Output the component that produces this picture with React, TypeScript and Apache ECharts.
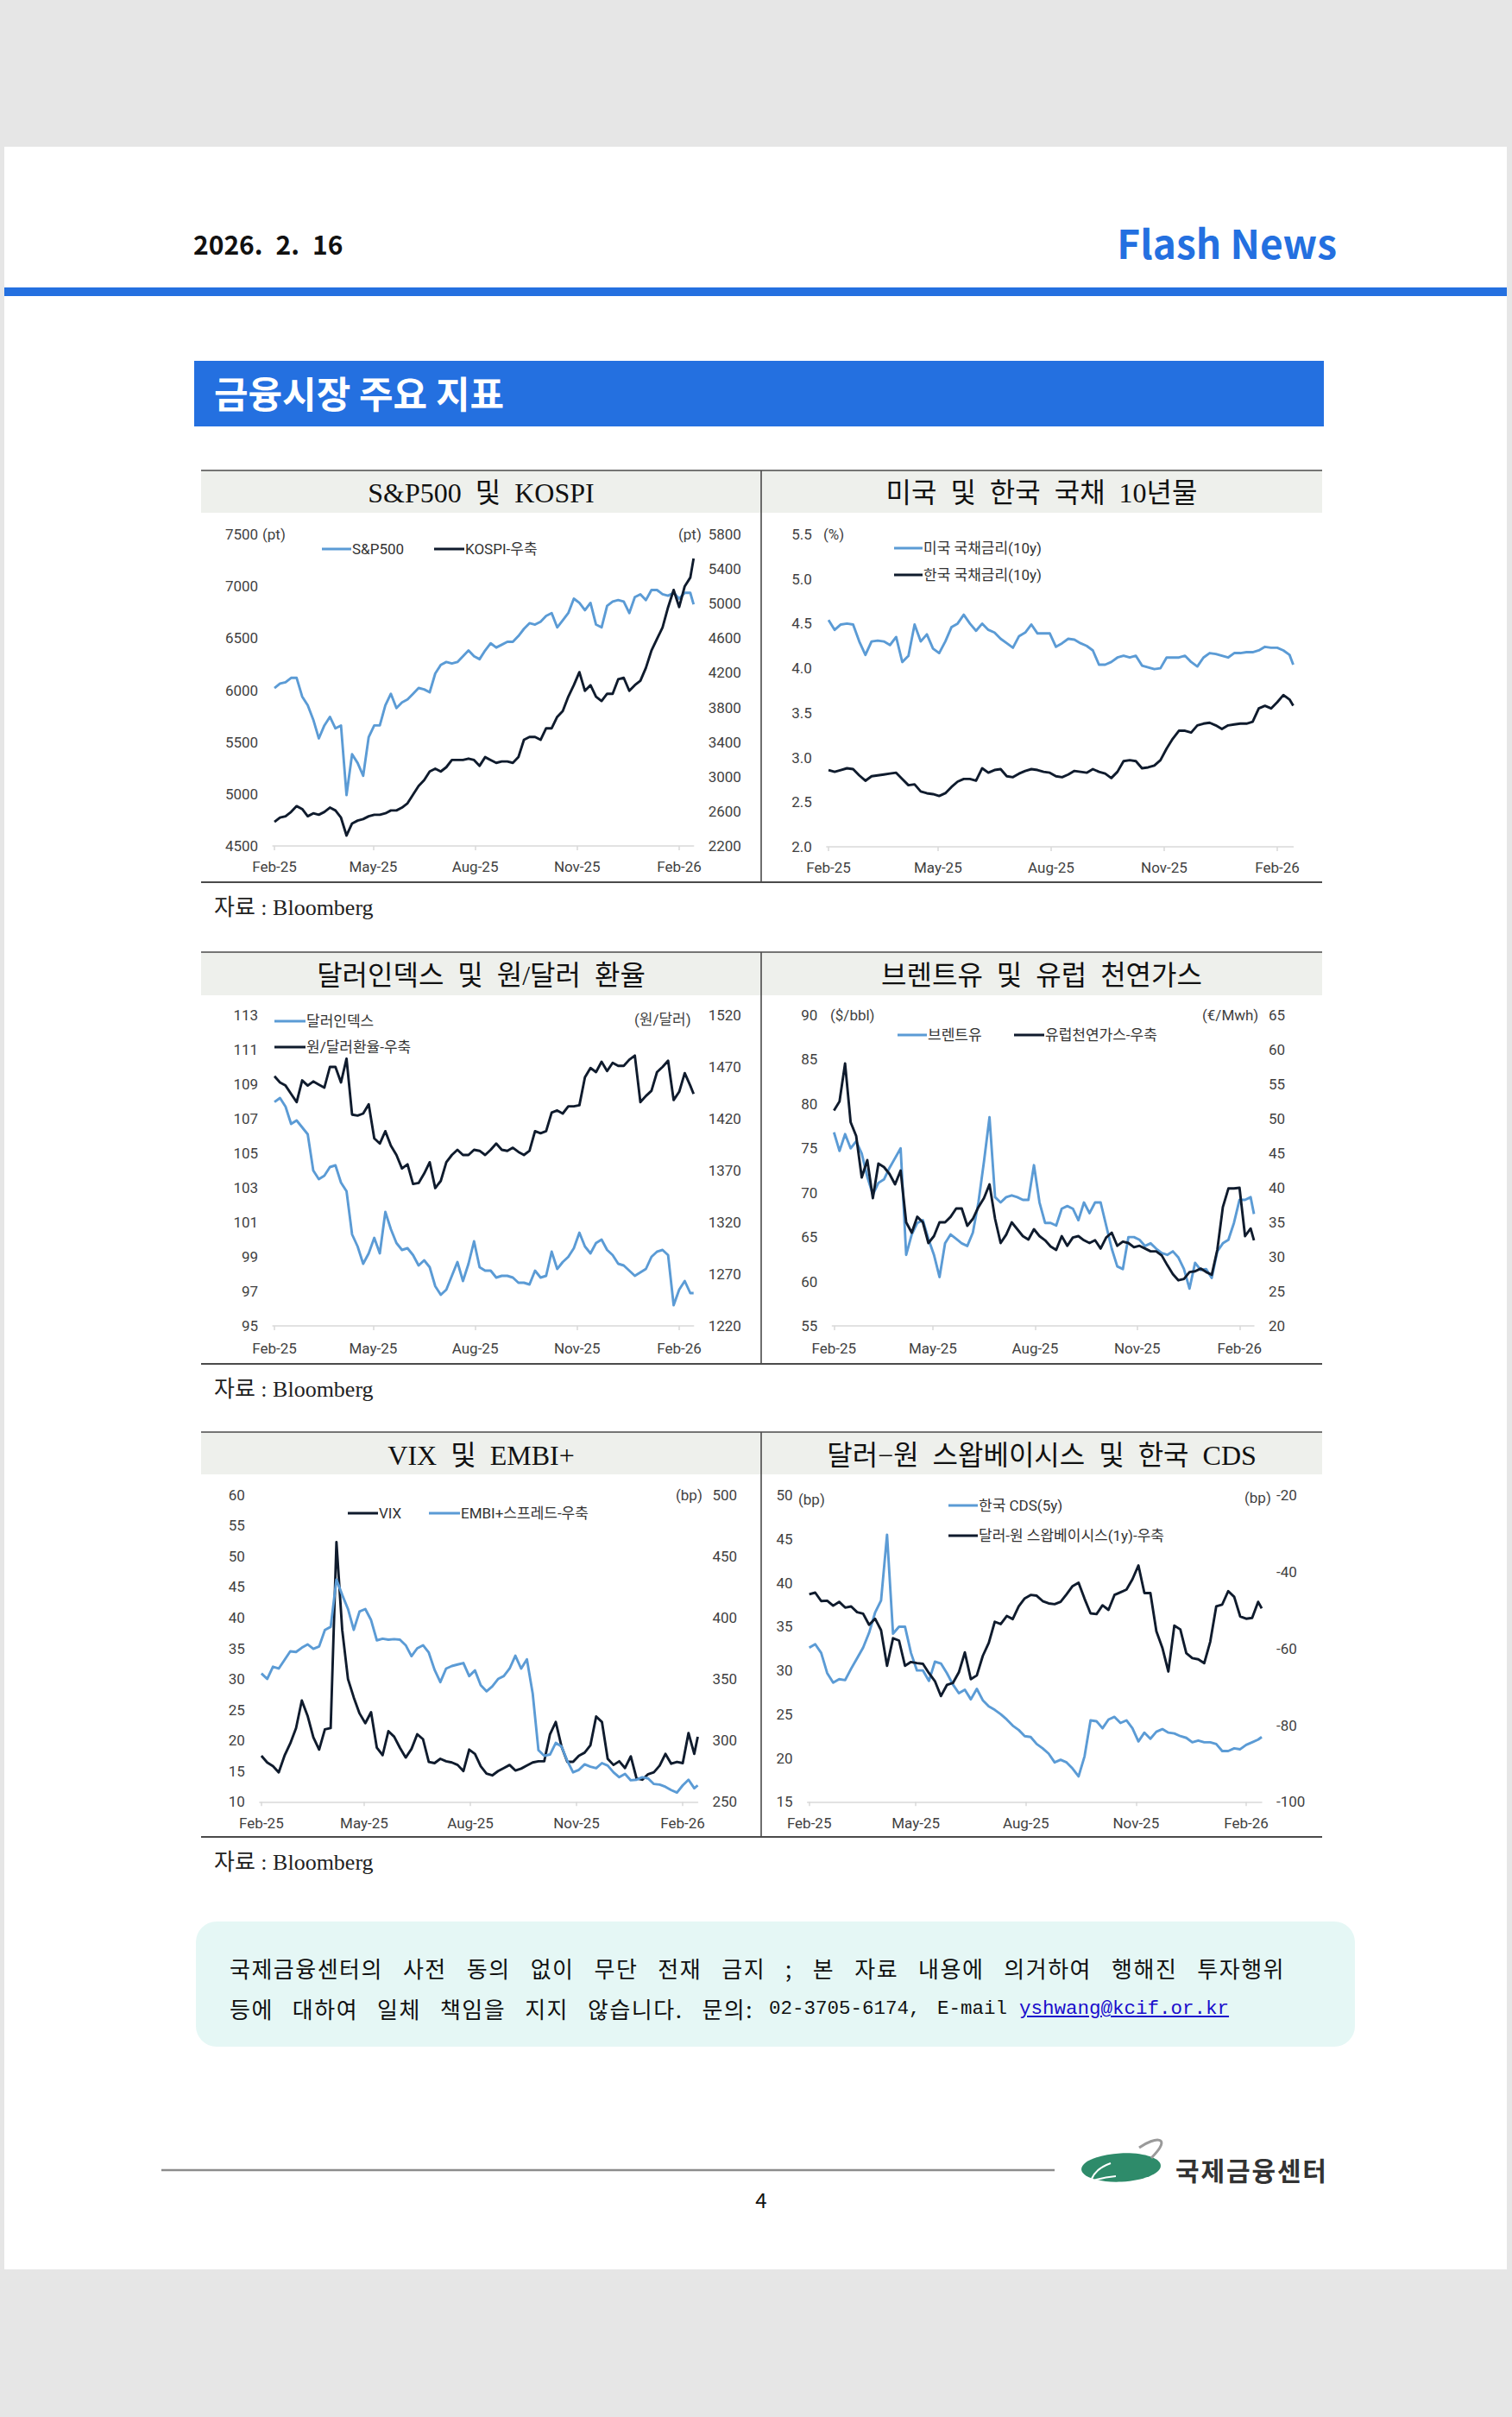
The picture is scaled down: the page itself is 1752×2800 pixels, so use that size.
import React, { useEffect, useRef } from "react";
import * as echarts from "echarts";

// ---------- DATA (day offsets from 2025-02-01) ----------
const DAYS = [0, 5, 10, 15, 20, 25, 30, 35, 40, 45, 50, 55, 60, 65, 70, 75, 80, 85, 90, 95, 100, 105, 110, 115, 120, 125, 130, 135, 140, 145, 150, 155, 160, 165, 170, 175, 180, 185, 190, 195, 200, 205, 210, 215, 220, 225, 230, 235, 240, 245, 250, 255, 260, 265, 270, 275, 280, 285, 290, 295, 300, 305, 310, 315, 320, 325, 330, 335, 340, 345, 350, 355, 360, 365, 370, 375, 378];
const TICK_DAYS = [0, 89, 181, 273, 365];
const TICK_LABELS = ["Feb-25", "May-25", "Aug-25", "Nov-25", "Feb-26"];

const SP500 = [6020, 6063, 6076, 6118, 6118, 5938, 5854, 5716, 5535, 5660, 5743, 5632, 5660, 4990, 5383, 5299, 5175, 5549, 5660, 5660, 5854, 5965, 5827, 5882, 5910, 5965, 6021, 6007, 5979, 6160, 6243, 6271, 6257, 6271, 6326, 6382, 6326, 6298, 6382, 6451, 6410, 6437, 6465, 6465, 6521, 6590, 6645, 6631, 6659, 6715, 6742, 6604, 6673, 6742, 6881, 6840, 6770, 6840, 6631, 6604, 6812, 6853, 6867, 6853, 6742, 6895, 6923, 6867, 6964, 6964, 6923, 6909, 6937, 6881, 6937, 6937, 6826];
const KOSPI = [2477, 2527, 2543, 2593, 2660, 2627, 2543, 2577, 2560, 2593, 2643, 2610, 2527, 2320, 2460, 2493, 2510, 2543, 2560, 2560, 2577, 2610, 2610, 2643, 2693, 2793, 2893, 2960, 3060, 3093, 3060, 3110, 3193, 3193, 3193, 3209, 3193, 3126, 3226, 3193, 3160, 3176, 3176, 3160, 3226, 3426, 3459, 3459, 3426, 3559, 3559, 3692, 3759, 3925, 4058, 4208, 3992, 4058, 3925, 3875, 3958, 3958, 4125, 4142, 3992, 4058, 4108, 4258, 4458, 4591, 4724, 4958, 5157, 4960, 5200, 5300, 5520];

const US10Y = [4.54, 4.43, 4.49, 4.50, 4.49, 4.30, 4.15, 4.30, 4.31, 4.30, 4.26, 4.35, 4.07, 4.14, 4.49, 4.30, 4.38, 4.22, 4.17, 4.30, 4.46, 4.50, 4.60, 4.50, 4.42, 4.50, 4.43, 4.40, 4.33, 4.28, 4.23, 4.36, 4.40, 4.49, 4.39, 4.39, 4.39, 4.24, 4.28, 4.33, 4.32, 4.28, 4.25, 4.20, 4.04, 4.04, 4.07, 4.12, 4.14, 4.12, 4.14, 4.03, 4.01, 3.99, 4.00, 4.12, 4.12, 4.12, 4.14, 4.07, 4.02, 4.12, 4.17, 4.16, 4.14, 4.12, 4.17, 4.17, 4.18, 4.18, 4.20, 4.24, 4.23, 4.23, 4.20, 4.15, 4.04];
const KR10Y = [2.86, 2.84, 2.86, 2.88, 2.87, 2.80, 2.74, 2.79, 2.80, 2.81, 2.82, 2.83, 2.76, 2.69, 2.70, 2.62, 2.60, 2.59, 2.57, 2.60, 2.67, 2.73, 2.76, 2.76, 2.74, 2.88, 2.83, 2.86, 2.87, 2.79, 2.78, 2.82, 2.85, 2.87, 2.86, 2.84, 2.83, 2.79, 2.78, 2.81, 2.85, 2.84, 2.83, 2.87, 2.84, 2.82, 2.77, 2.84, 2.96, 2.97, 2.96, 2.88, 2.89, 2.91, 2.97, 3.10, 3.21, 3.30, 3.30, 3.28, 3.36, 3.38, 3.39, 3.36, 3.32, 3.36, 3.37, 3.38, 3.38, 3.40, 3.55, 3.58, 3.55, 3.62, 3.70, 3.65, 3.58];

const DXY = [107.97, 108.2, 107.7, 106.7, 106.9, 106.5, 106.1, 104.0, 103.5, 103.7, 104.2, 104.3, 103.3, 102.8, 100.3, 99.6, 98.6, 99.2, 100.1, 99.2, 101.6, 100.6, 99.8, 99.4, 99.5, 99.1, 98.5, 98.8, 98.4, 97.3, 96.8, 97.1, 97.9, 98.7, 97.6, 98.6, 99.9, 98.4, 98.2, 98.2, 97.8, 97.9, 97.9, 97.8, 97.5, 97.5, 97.4, 98.2, 97.8, 97.9, 99.3, 98.3, 98.7, 99.0, 99.5, 100.4, 99.6, 99.2, 99.8, 100.0, 99.4, 99.1, 98.6, 98.5, 98.2, 97.9, 98.1, 98.3, 99.0, 99.3, 99.4, 99.1, 96.2, 97.1, 97.6, 96.9, 96.9];
const KRW = [1461, 1455, 1452, 1444, 1436, 1457, 1452, 1456, 1453, 1450, 1470, 1470, 1455, 1478, 1424, 1423, 1425, 1434, 1401, 1396, 1408, 1394, 1385, 1372, 1376, 1357, 1358, 1367, 1378, 1353, 1360, 1378, 1385, 1390, 1385, 1385, 1390, 1389, 1385, 1390, 1396, 1390, 1389, 1392, 1388, 1385, 1389, 1408, 1406, 1408, 1426, 1428, 1425, 1432, 1432, 1433, 1460, 1469, 1465, 1475, 1466, 1474, 1471, 1471, 1477, 1481, 1436, 1442, 1447, 1465, 1470, 1476, 1438, 1446, 1464, 1452, 1444];

const BRENT = [76.8, 74.7, 76.6, 75.0, 75.8, 74.4, 71.8, 69.8, 71.1, 71.5, 72.8, 73.9, 75.0, 63.0, 65.3, 66.6, 66.9, 64.8, 63.0, 60.5, 64.3, 65.3, 64.8, 64.3, 64.0, 65.5, 68.9, 73.5, 78.5, 69.5, 68.9, 69.5, 69.7, 69.5, 69.2, 69.2, 73.1, 68.9, 66.6, 66.6, 66.3, 68.2, 68.5, 68.2, 66.9, 68.9, 67.7, 68.9, 68.9, 66.3, 63.7, 61.7, 61.4, 65.0, 65.0, 64.7, 64.0, 64.3, 63.7, 63.2, 63.0, 63.4, 62.7, 61.4, 59.2, 62.1, 61.3, 61.4, 60.4, 63.4, 64.3, 64.7, 66.6, 69.2, 69.2, 69.5, 67.6];
const GAS = [51.2, 52.5, 58.0, 49.5, 47.5, 41.5, 44.0, 38.5, 43.5, 43.0, 42.0, 40.5, 42.5, 35.0, 33.5, 35.8, 35.0, 32.0, 33.0, 35.0, 35.0, 35.8, 37.0, 37.0, 34.5, 35.5, 37.2, 38.5, 40.5, 35.5, 32.0, 33.2, 35.0, 34.0, 33.0, 32.5, 34.0, 33.0, 32.4, 31.5, 31.0, 33.0, 31.6, 32.8, 33.0, 32.4, 32.0, 32.4, 31.2, 32.8, 33.5, 31.6, 32.2, 32.0, 31.4, 31.6, 31.2, 30.8, 30.8, 30.2, 28.8, 27.5, 26.6, 26.8, 27.8, 27.9, 28.3, 27.8, 27.4, 31.0, 37.2, 39.9, 39.9, 40.0, 33.0, 34.1, 32.4];

const VIX = [17.5, 16.4, 15.8, 14.8, 17.5, 19.5, 22.0, 26.5, 24.0, 20.5, 18.5, 21.8, 22.0, 52.3, 38.0, 30.0, 27.0, 24.4, 22.8, 24.6, 18.8, 17.6, 21.5, 20.6, 18.8, 17.2, 18.6, 21.0, 20.2, 16.5, 16.3, 17.0, 16.6, 16.4, 16.0, 15.0, 18.5, 17.8, 15.8, 14.6, 14.3, 15.0, 15.5, 16.0, 15.1, 15.4, 15.9, 16.4, 16.6, 16.6, 21.0, 23.0, 19.0, 16.5, 16.5, 17.5, 18.0, 19.2, 23.9, 23.0, 17.0, 16.0, 16.6, 15.5, 17.4, 13.8, 13.6, 14.5, 14.8, 15.9, 17.8, 16.2, 16.5, 16.3, 21.2, 17.8, 20.6];
const EMBI = [354.5, 350.0, 360.0, 358.5, 365.5, 372.5, 372.0, 375.5, 378.2, 374.6, 376.5, 390.0, 392.5, 431.0, 418.5, 407.0, 390.0, 405.0, 407.0, 398.0, 381.5, 382.8, 382.0, 382.5, 382.0, 377.5, 368.6, 375.0, 377.5, 371.5, 357.5, 347.5, 358.5, 360.6, 361.8, 363.0, 352.4, 357.0, 345.0, 340.0, 344.0, 350.0, 352.4, 358.5, 369.0, 358.5, 366.0, 338.3, 292.0, 287.5, 288.5, 298.0, 295.0, 283.3, 274.0, 276.0, 280.5, 278.6, 277.4, 281.5, 279.5, 274.0, 270.0, 272.7, 267.5, 268.0, 270.0, 269.0, 264.5, 264.0, 262.2, 259.5, 257.5, 263.4, 268.0, 261.0, 263.4];

const CDS = [32.6, 33.0, 32.0, 29.7, 28.6, 29.0, 28.9, 30.2, 31.4, 32.6, 34.3, 36.6, 38.0, 45.5, 34.2, 35.0, 35.0, 32.0, 30.0, 30.0, 28.8, 31.0, 30.8, 29.7, 28.4, 27.4, 27.8, 26.7, 27.9, 26.6, 25.9, 25.5, 25.0, 24.4, 23.7, 23.2, 22.5, 22.4, 21.6, 21.1, 20.5, 19.5, 19.8, 19.5, 18.8, 17.9, 20.2, 24.3, 24.2, 23.4, 24.4, 24.7, 24.0, 24.3, 23.4, 21.9, 22.9, 22.2, 23.0, 23.3, 22.9, 22.8, 22.5, 22.3, 21.8, 22.0, 21.8, 21.8, 21.6, 20.8, 20.8, 21.1, 21.0, 21.5, 21.8, 22.1, 22.4];
const SWAP = [-45.8, -45.4, -47.6, -47.5, -48.8, -47.8, -49.3, -49.0, -50.5, -50.9, -53.8, -52.2, -55.2, -64.5, -57.3, -57.9, -64.5, -63.5, -63.8, -64.0, -66.4, -68.5, -72.4, -69.5, -69.0, -66.2, -61.0, -68.0, -67.0, -61.9, -58.5, -53.0, -53.6, -51.5, -52.3, -49.0, -46.9, -46.0, -46.2, -47.6, -48.2, -48.4, -47.8, -45.8, -43.7, -42.8, -47.0, -50.8, -51.0, -48.7, -49.9, -46.0, -45.3, -44.6, -41.9, -38.3, -45.5, -45.5, -55.5, -59.8, -66.0, -54.0, -55.0, -61.2, -62.5, -62.8, -63.8, -58.2, -49.0, -48.5, -45.0, -46.5, -51.6, -52.2, -52.0, -47.8, -49.5];

// ---------- STYLE ----------
const LIGHT = "#5B9BD5";
const DARK = "#0F1B2D";
const BLUE = "#2470E0";
const AXIS_GRAY = "#D9D9D9";
const LABEL = "#3F3F3F";
const SANS = "Roboto, 'Noto Sans CJK KR', sans-serif";
const KR = "'Noto Sans CJK KR', 'Noto Sans', sans-serif";
const SERIF = "'Liberation Serif', 'Noto Sans CJK KR', serif";

type AxisDef = { min: number; max: number; interval: number; dec?: number };
type SerDef = { name: string; data: number[]; color: string; right?: boolean };
type ChartDef = {
  grid: { left: number; top: number; width: number; height: number };
  xMargin: number;
  yl: AxisDef;
  yr?: AxisDef;
  series: SerDef[];
};

const CHARTS: ChartDef[] = [
  {
    grid: { left: 316.1, top: 619, width: 487.6, height: 361 }, xMargin: 15,
    yl: { min: 4500, max: 7500, interval: 500 }, yr: { min: 2200, max: 5800, interval: 400 },
    series: [
      { name: "S&P500", data: SP500, color: LIGHT },
      { name: "KOSPI-우축", data: KOSPI, color: DARK, right: true },
    ],
  },
  {
    grid: { left: 957.9, top: 619, width: 540.6, height: 362 }, xMargin: 15,
    yl: { min: 2, max: 5.5, interval: 0.5, dec: 1 },
    series: [
      { name: "미국 국채금리(10y)", data: US10Y, color: LIGHT },
      { name: "한국 국채금리(10y)", data: KR10Y, color: DARK },
    ],
  },
  {
    grid: { left: 316.1, top: 1176, width: 487.6, height: 360 }, xMargin: 17,
    yl: { min: 95, max: 113, interval: 2 }, yr: { min: 1220, max: 1520, interval: 50 },
    series: [
      { name: "달러인덱스", data: DXY, color: LIGHT },
      { name: "원/달러환율-우축", data: KRW, color: DARK, right: true },
    ],
  },
  {
    grid: { left: 964.4, top: 1176, width: 488.6, height: 360 }, xMargin: 17,
    yl: { min: 55, max: 90, interval: 5 }, yr: { min: 20, max: 65, interval: 5 },
    series: [
      { name: "브렌트유", data: BRENT, color: LIGHT },
      { name: "유럽천연가스-우축", data: GAS, color: DARK, right: true },
    ],
  },
  {
    grid: { left: 300.9, top: 1731.7, width: 507.6, height: 355.6 }, xMargin: 16,
    yl: { min: 10, max: 60, interval: 5 }, yr: { min: 250, max: 500, interval: 50 },
    series: [
      { name: "VIX", data: VIX, color: DARK },
      { name: "EMBI+스프레드-우축", data: EMBI, color: LIGHT, right: true },
    ],
  },
  {
    grid: { left: 935.6, top: 1732.3, width: 526.4, height: 355 }, xMargin: 16,
    yl: { min: 15, max: 50, interval: 5 }, yr: { min: -100, max: -20, interval: 20 },
    series: [
      { name: "한국 CDS(5y)", data: CDS, color: LIGHT },
      { name: "달러-원 스왑베이시스(1y)-우축", data: SWAP, color: DARK, right: true },
    ],
  },
];

// ---------- graphic helpers ----------
const rect = (x: number, y: number, w: number, h: number, fill: string, r = 0) => ({
  type: "rect", silent: true, shape: { x, y, width: w, height: h, r }, style: { fill },
});
const hline = (x1: number, y1: number, x2: number, y2: number, stroke: string, lineWidth: number) => ({
  type: "line", silent: true, shape: { x1, y1, x2, y2 }, style: { stroke, lineWidth },
});
const txt = (x: number, y: number, text: string, o: any = {}) => ({
  type: "text", silent: true, x, y,
  style: {
    text,
    fontSize: o.size ?? 17,
    fontFamily: o.family ?? SANS,
    fontWeight: o.weight ?? "normal",
    fill: o.fill ?? LABEL,
    align: o.align ?? "left",
    textAlign: o.align ?? "left",
    verticalAlign: "middle",
    textVerticalAlign: "middle",
  },
});

function buildGraphic() {
  const g: any[] = [];
  // page
  g.push(rect(5, 170, 1741, 2459, "#FFFFFF"));
  // header
  g.push(txt(224, 282, "2026.\u20022.\u200216", { size: 30, weight: "bold", family: KR, fill: "#111111" }));
  g.push(txt(1549, 280, "Flash News", { size: 46, weight: "bold", family: KR, fill: BLUE, align: "right" }));
  g.push(rect(5, 333, 1741, 10, BLUE));
  g.push(rect(225, 418, 1309, 76, BLUE));
  g.push(txt(248, 454, "금융시장 주요 지표", { size: 43, weight: "bold", family: KR, fill: "#FFFFFF" }));

  // panels
  const rows = [
    { top: 545, titleBottom: 594, bottom: 1022, ty: 571 },
    { top: 1103, titleBottom: 1153, bottom: 1580, ty: 1130 },
    { top: 1659, titleBottom: 1708, bottom: 2128, ty: 1686 },
  ];
  const titles = [
    ["S&P500\u2002및\u2002KOSPI", "미국\u2002및\u2002한국\u2002국채\u200210년물"],
    ["달러인덱스\u2002및\u2002원/달러\u2002환율", "브렌트유\u2002및\u2002유럽\u2002천연가스"],
    ["VIX\u2002및\u2002EMBI+", "달러−원\u2002스왑베이시스\u2002및\u2002한국\u2002CDS"],
  ];
  rows.forEach((r, i) => {
    g.push(rect(233, r.top, 649, r.titleBottom - r.top, "#EEF0EC"));
    g.push(rect(882, r.top, 650, r.titleBottom - r.top, "#EEF0EC"));
    g.push(hline(233, r.top, 1532, r.top, "#4A4A4A", 1.6));
    g.push(hline(233, r.bottom, 1532, r.bottom, "#4A4A4A", 1.8));
    g.push(hline(882, r.top, 882, r.bottom, "#4A4A4A", 1.6));
    g.push(txt(557.5, r.ty, titles[i][0], { size: 32, family: SERIF, fill: "#111111", align: "center" }));
    g.push(txt(1207, r.ty, titles[i][1], { size: 32, family: SERIF, fill: "#111111", align: "center" }));
    g.push(txt(248, r.bottom + 29, "자료 : Bloomberg", { size: 26, family: SERIF, fill: "#222222" }));
  });

  // legends (line + text)
  const leg = (x1: number, x2: number, y: number, color: string, label: string) => {
    g.push(hline(x1, y, x2, y, color, 3));
    g.push(txt(x2 + 1, y, label, { size: 17, fill: "#333333" }));
  };
  leg(373, 407, 636, LIGHT, "S&P500");
  leg(503, 538, 636, DARK, "KOSPI-우축");
  leg(1036, 1069, 635, LIGHT, "미국 국채금리(10y)");
  leg(1036, 1069, 666, DARK, "한국 국채금리(10y)");
  leg(318, 354, 1183, LIGHT, "달러인덱스");
  leg(318, 354, 1213, DARK, "원/달러환율-우축");
  leg(1040, 1074, 1199, LIGHT, "브렌트유");
  leg(1175, 1210, 1199, DARK, "유럽천연가스-우축");
  leg(403, 438, 1753, DARK, "VIX");
  leg(497, 533, 1753, LIGHT, "EMBI+스프레드-우축");
  leg(1099, 1133, 1744, LIGHT, "한국 CDS(5y)");
  leg(1099, 1133, 1779, DARK, "달러-원 스왑베이시스(1y)-우축");

  // unit labels
  g.push(txt(304, 619, "(pt)"));
  g.push(txt(786, 619, "(pt)"));
  g.push(txt(954, 619, "(%)"));
  g.push(txt(735, 1181, "(원/달러)"));
  g.push(txt(962, 1176, "($/bbl)"));
  g.push(txt(1393, 1176, "(€/Mwh)"));
  g.push(txt(783, 1732, "(bp)"));
  g.push(txt(925, 1737, "(bp)"));
  g.push(txt(1442, 1735, "(bp)"));

  // notice box
  g.push(rect(227, 2226, 1343, 145, "#E5F7F5", 24));

  // footer
  g.push(hline(187, 2514, 1222, 2514, "#8C8C8C", 2.5));
  g.push(txt(882, 2547, "4", { size: 24, family: KR, fill: "#111111", align: "center" }));
  g.push({
    type: "ellipse", silent: true, x: 1299, y: 2511, rotation: 0.05,
    shape: { cx: 0, cy: 0, rx: 46, ry: 16.5 }, style: { fill: "#2E8B6A" },
  });
  g.push({
    type: "bezierCurve", silent: true,
    shape: { x1: 1265, y1: 2524, cpx1: 1270, cpy1: 2512, x2: 1287, y2: 2506 },
    style: { stroke: "#FFFFFF", lineWidth: 2.2, fill: null },
  });
  g.push({
    type: "bezierCurve", silent: true,
    shape: { x1: 1267, y1: 2526, cpx1: 1280, cpy1: 2522, x2: 1293, y2: 2521 },
    style: { stroke: "#FFFFFF", lineWidth: 2, fill: null },
  });
  g.push({
    type: "bezierCurve", silent: true,
    shape: { x1: 1320, y1: 2488, cpx1: 1338, cpy1: 2475, cpx2: 1360, cpy2: 2474, x2: 1334, y2: 2500 },
    style: { stroke: "#9A9A9A", lineWidth: 3, fill: null },
  });
  g.push(txt(1362, 2513, "국\u200A제\u200A금\u200A융\u200A센\u200A터", { size: 30, weight: "bold", family: KR, fill: "#333333" }));
  return g;
}

function buildOption() {
  const grid: any[] = [];
  const xAxis: any[] = [];
  const yAxis: any[] = [];
  const series: any[] = [];
  CHARTS.forEach((c, gi) => {
    grid.push({ ...c.grid, containLabel: false });
    xAxis.push({
      type: "value", gridIndex: gi, min: -1.5, max: 378,
      axisLine: { show: true, onZero: false, lineStyle: { color: AXIS_GRAY, width: 1.5 } },
      axisTick: { show: true, customValues: TICK_DAYS, length: 5, lineStyle: { color: AXIS_GRAY, width: 1.5 } },
      axisLabel: {
        show: true, customValues: TICK_DAYS, margin: c.xMargin, color: LABEL, fontSize: 17, fontFamily: SANS,
        formatter: (v: number) => {
          const k = TICK_DAYS.indexOf(Math.round(v));
          return k >= 0 ? TICK_LABELS[k] : "";
        },
      },
      splitLine: { show: false },
    });
    const leftIdx = yAxis.length;
    const mkY = (a: AxisDef, pos: string, margin: number) => ({
      type: "value", gridIndex: gi, position: pos, min: a.min, max: a.max, interval: a.interval,
      axisLine: { show: false, onZero: false }, axisTick: { show: false }, splitLine: { show: false },
      axisLabel: {
        margin, color: LABEL, fontSize: 17, fontFamily: SANS,
        formatter: (v: number) => (a.dec ? v.toFixed(a.dec) : String(Math.round(v))),
      },
    });
    yAxis.push(mkY(c.yl, "left", 17));
    let rightIdx = leftIdx;
    if (c.yr) {
      rightIdx = yAxis.length;
      yAxis.push(mkY(c.yr, "right", 17));
    }
    c.series.forEach((s, si) => {
      series.push({
        type: "line", name: s.name, xAxisIndex: gi, yAxisIndex: s.right ? rightIdx : leftIdx,
        data: DAYS.map((d, i) => [d, s.data[i]]),
        showSymbol: false, symbol: "none", z: 2 + si,
        lineStyle: { width: 2.9, color: s.color, join: "round" },
        itemStyle: { color: s.color },
        emphasis: { disabled: true },
      });
    });
  });
  return {
    animation: false,
    backgroundColor: "transparent",
    textStyle: { fontFamily: SANS },
    grid, xAxis, yAxis, series,
    graphic: { elements: buildGraphic() },
  };
}

export default function App() {
  const ref = useRef<HTMLDivElement>(null);
  useEffect(() => {
    if (!ref.current) return;
    const chart = echarts.init(ref.current, undefined, { renderer: "svg", width: 1752, height: 2800 });
    chart.setOption(buildOption() as any);
    return () => chart.dispose();
  }, []);

  const noticeBase: React.CSSProperties = {
    position: "absolute", height: 40, lineHeight: "40px", fontSize: 26, letterSpacing: 1.5,
    fontFamily: KR, color: "#111111", whiteSpace: "nowrap",
  };
  const mono: React.CSSProperties = {
    ...noticeBase, letterSpacing: 0, fontFamily: "'Liberation Mono', 'DejaVu Sans Mono', monospace", fontSize: 22.5,
  };

  return (
    <div style={{ position: "absolute", left: 0, top: 0, width: 1752, height: 2800, background: "#E6E6E6", overflow: "hidden" }}>
      <div ref={ref} style={{ position: "absolute", left: 0, top: 0, width: 1752, height: 2800 }} />
      <div style={{ ...noticeBase, left: 266, top: 2260, width: 1223, textAlign: "justify", textAlignLast: "justify", whiteSpace: "normal" }}>
        국제금융센터의 사전 동의 없이 무단 전재 금지 ; 본 자료 내용에 의거하여 행해진 투자행위
      </div>
      <div style={{ ...noticeBase, left: 266, top: 2307, width: 607, textAlign: "justify", textAlignLast: "justify", whiteSpace: "normal" }}>
        등에 대하여 일체 책임을 지지 않습니다. 문의:
      </div>
      <div style={{ ...mono, left: 891, top: 2307 }}>02-3705-6174,</div>
      <div style={{ ...mono, left: 1086, top: 2307 }}>E-mail</div>
      <div style={{ ...mono, left: 1181, top: 2307, color: "#1A0DCC", textDecoration: "underline" }}>yshwang@kcif.or.kr</div>
    </div>
  );
}
